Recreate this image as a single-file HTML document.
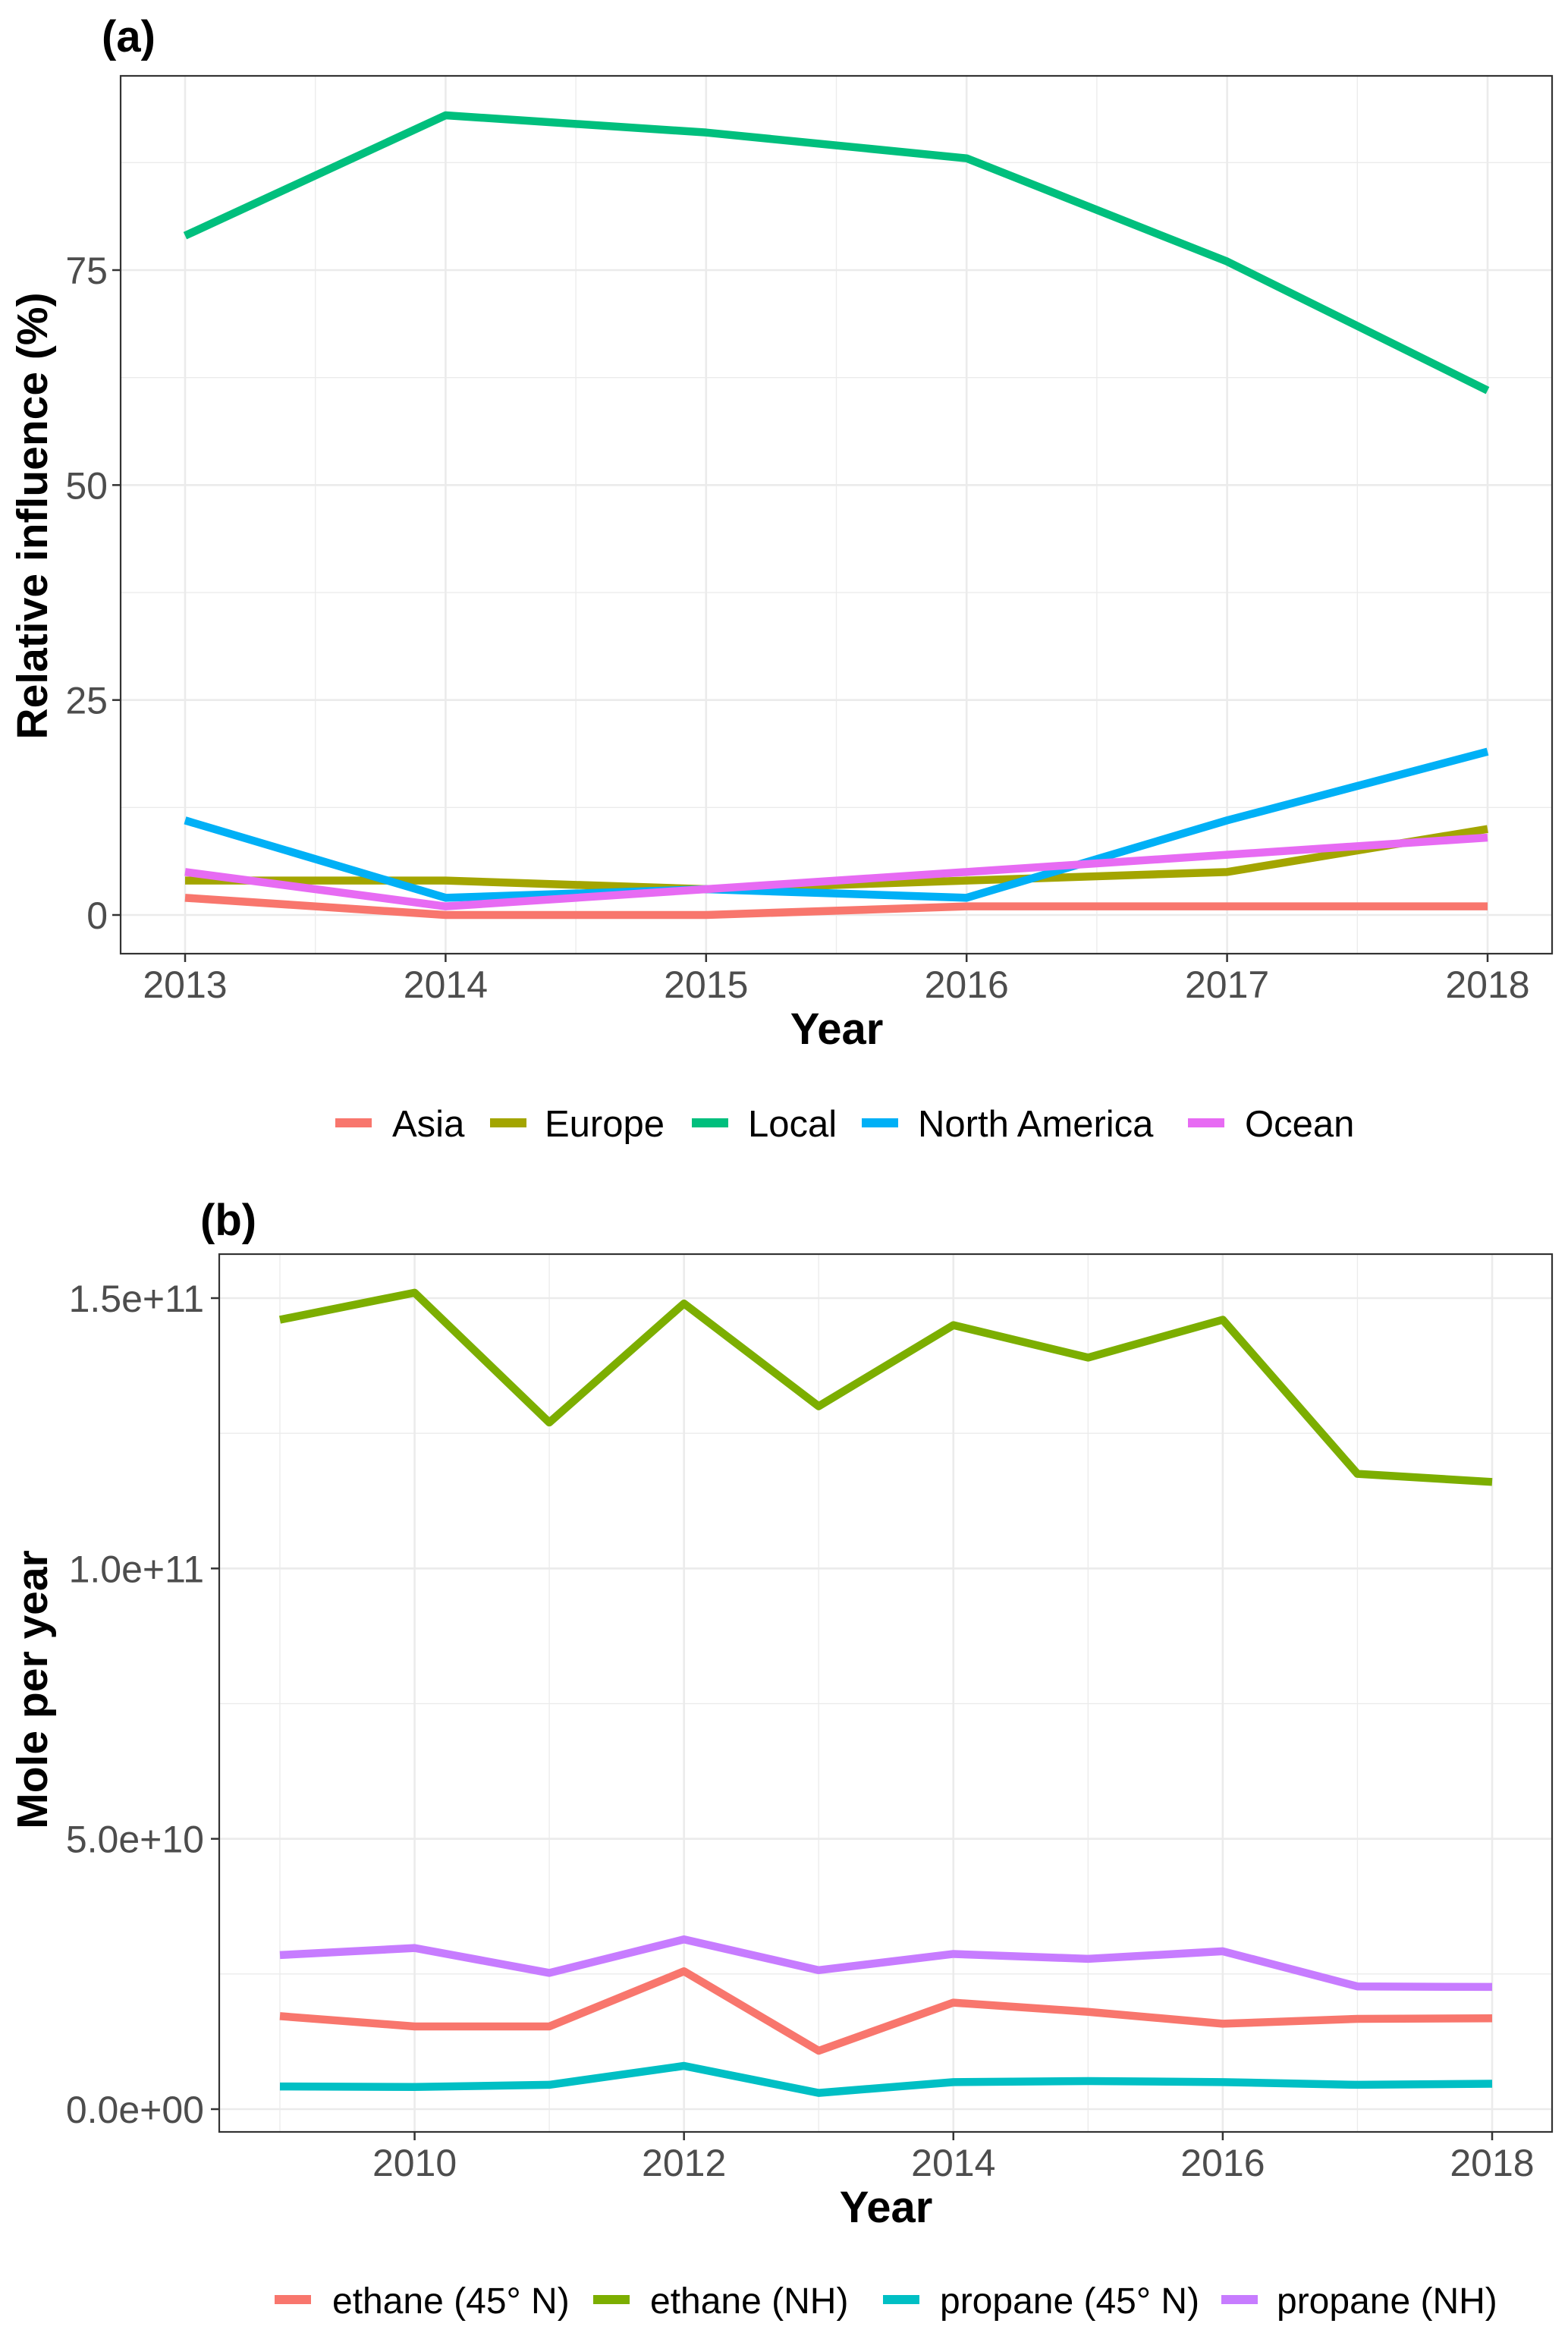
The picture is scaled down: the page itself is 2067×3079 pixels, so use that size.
<!DOCTYPE html>
<html><head><meta charset="utf-8"><style>
html,body{margin:0;padding:0;background:#fff}
svg{display:block}
text{font-family:"Liberation Sans",sans-serif}
</style></head><body>
<svg id="fig" width="2067" height="3079" viewBox="0 0 2067 3079" xmlns="http://www.w3.org/2000/svg"></svg>
<script>
// Panel (a) data
const yearsA = [2013, 2014, 2015, 2016, 2017, 2018];
const asiaA = [2, 0, 0, 1, 1, 1];
const europeA = [4, 4, 3, 4, 5, 10];
const localA = [79, 93, 91, 88, 76, 61];
const northAmericaA = [11, 2, 3, 2, 11, 19];
const oceanA = [5, 1, 3, 5, 7, 9];
const yTicksA = [0, 25, 50, 75];
const yTickLabelsA = ["0", "25", "50", "75"];
const xTickLabelsA = ["2013", "2014", "2015", "2016", "2017", "2018"];
// Panel (b) data (mole per year)
const yearsB = [2009, 2010, 2011, 2012, 2013, 2014, 2015, 2016, 2017, 2018];
const ethane45 = [1.72e10, 1.53e10, 1.53e10, 2.55e10, 1.08e10, 1.97e10, 1.80e10, 1.58e10, 1.67e10, 1.68e10];
const ethaneNH = [1.46e11, 1.51e11, 1.27e11, 1.49e11, 1.30e11, 1.45e11, 1.39e11, 1.46e11, 1.175e11, 1.16e11];
const propane45 = [0.42e10, 0.41e10, 0.45e10, 0.80e10, 0.30e10, 0.50e10, 0.52e10, 0.50e10, 0.45e10, 0.47e10];
const propaneNH = [2.85e10, 2.98e10, 2.52e10, 3.14e10, 2.57e10, 2.87e10, 2.78e10, 2.92e10, 2.27e10, 2.26e10];
const yTicksB = [0, 5e10, 1e11, 1.5e11];
const yTickLabelsB = ["0.0e+00", "5.0e+10", "1.0e+11", "1.5e+11"];
const xTicksB = [2010, 2012, 2014, 2016, 2018];
const xTickLabelsB = ["2010", "2012", "2014", "2016", "2018"];

const NS = "http://www.w3.org/2000/svg";
const svg = document.getElementById('fig');
function mk(tag, attrs, parent, txt){
  const e = document.createElementNS(NS, tag);
  for (const k in attrs) e.setAttribute(k, attrs[k]);
  if (txt !== undefined) e.textContent = txt;
  (parent || svg).appendChild(e);
  return e;
}

// ---------- Panel A ----------
const A = {l:159, r:2046, t:100, b:1257};
const xA = v => 244 + (v - 2013) * (1961 - 244) / 5;
const yA = v => 1206 - v * (1206 - 356) / 75;
const gA = mk('g', {});


mk('rect', {x:A.l, y:A.t, width:A.r-A.l, height:A.b-A.t, fill:'#fff'}, gA);
for (let v = 2013.5; v < 2018; v += 1) mk('line', {x1:xA(v), x2:xA(v), y1:A.t, y2:A.b, stroke:'#ebebeb', 'stroke-width':1.3}, gA);
for (let v = 12.5; v < 100; v += 25) { const y = yA(v); if (y > A.t) mk('line', {x1:A.l, x2:A.r, y1:y, y2:y, stroke:'#ebebeb', 'stroke-width':1.3}, gA); }
yearsA.forEach(v => mk('line', {x1:xA(v), x2:xA(v), y1:A.t, y2:A.b, stroke:'#ebebeb', 'stroke-width':2.6}, gA));
yTicksA.forEach(v => mk('line', {x1:A.l, x2:A.r, y1:yA(v), y2:yA(v), stroke:'#ebebeb', 'stroke-width':2.6}, gA));
const seriesA = [[asiaA,'#F8766D','asia'],[europeA,'#A3A500','europe'],[localA,'#00BF7D','local'],[northAmericaA,'#00B0F6','north-america'],[oceanA,'#E76BF3','ocean']];
seriesA.forEach(s => {
  const p = mk('polyline', {points: s[0].map((v,i)=>xA(yearsA[i])+','+yA(v)).join(' '), fill:'none', stroke:s[1], 'stroke-width':10.5, 'stroke-linejoin':'round'}, gA);
  
  
});
mk('rect', {x:A.l, y:A.t, width:A.r-A.l, height:A.b-A.t, fill:'none', stroke:'#333', 'stroke-width':2.2}, gA);
yTicksA.forEach((v,i) => {
  mk('line', {x1:A.l-11, x2:A.l, y1:yA(v), y2:yA(v), stroke:'#333', 'stroke-width':2.5}, gA);
  const t = mk('text', {x:A.l-17, y:yA(v)+18, 'text-anchor':'end', 'font-size':50, fill:'#4d4d4d'}, gA, yTickLabelsA[i]);
  
  
});
yearsA.forEach((v,i) => {
  mk('line', {x1:xA(v), x2:xA(v), y1:A.b, y2:A.b+11, stroke:'#333', 'stroke-width':2.5}, gA);
  const t = mk('text', {x:xA(v), y:1315, 'text-anchor':'middle', 'font-size':50, fill:'#4d4d4d'}, gA, xTickLabelsA[i]);
  
  
});
</script>
<script>
(function(){
const t1 = mk('text', {x:134, y:68, 'font-size':58, 'font-weight':'bold'}, null, '(a)');


const t2 = mk('text', {x:1103, y:1376, 'text-anchor':'middle', 'font-size':58, 'font-weight':'bold'}, null, 'Year');


const t3 = mk('text', {x:0, y:0, 'text-anchor':'middle', 'font-size':57, 'font-weight':'bold', transform:'translate(62,680) rotate(-90)'}, null, 'Relative influence (%)');



const legA = [['Asia','#F8766D',442,517],['Europe','#A3A500',646,718],['Local','#00BF7D',912,986],['North America','#00B0F6',1136,1210],['Ocean','#E76BF3',1566,1641]];
legA.forEach(l => {
  const g = mk('g', {});
  
  
  mk('rect', {x:l[2], y:1474, width:48, height:12, fill:l[1]}, g);
  mk('text', {x:l[3], y:1498, 'font-size':49}, g, l[0]);
});

const B = {l:289, r:2046, t:1653, b:2810};
const xB = v => 369 + (v - 2009) * (1967 - 369) / 9;
const yB = v => 2780 - v * (2780 - 1711) / 1.5e11;
const gB = mk('g', {});


for (let v = 2009; v <= 2017; v += 2) mk('line', {x1:xB(v), x2:xB(v), y1:B.t, y2:B.b, stroke:'#ebebeb', 'stroke-width':1.3}, gB);
for (let v = 2.5e10; v < 1.6e11; v += 5e10) mk('line', {x1:B.l, x2:B.r, y1:yB(v), y2:yB(v), stroke:'#ebebeb', 'stroke-width':1.3}, gB);
xTicksB.forEach(v => mk('line', {x1:xB(v), x2:xB(v), y1:B.t, y2:B.b, stroke:'#ebebeb', 'stroke-width':2.6}, gB));
yTicksB.forEach(v => mk('line', {x1:B.l, x2:B.r, y1:yB(v), y2:yB(v), stroke:'#ebebeb', 'stroke-width':2.6}, gB));
const seriesB = [[ethane45,'#F8766D','ethane-45n'],[ethaneNH,'#7CAE00','ethane-nh'],[propane45,'#00BFC4','propane-45n'],[propaneNH,'#C77CFF','propane-nh']];
seriesB.forEach(s => {
  const p = mk('polyline', {points: s[0].map((v,i)=>xB(yearsB[i])+','+yB(v)).join(' '), fill:'none', stroke:s[1], 'stroke-width':10.5, 'stroke-linejoin':'round'}, gB);
  
  
});
mk('rect', {x:B.l, y:B.t, width:B.r-B.l, height:B.b-B.t, fill:'none', stroke:'#333', 'stroke-width':2.2}, gB);
yTicksB.forEach((v,i) => {
  mk('line', {x1:B.l-11, x2:B.l, y1:yB(v), y2:yB(v), stroke:'#333', 'stroke-width':2.5}, gB);
  const t = mk('text', {x:B.l-20, y:yB(v)+18, 'text-anchor':'end', 'font-size':50, fill:'#4d4d4d'}, gB, yTickLabelsB[i]);
  
  
});
xTicksB.forEach((v,i) => {
  mk('line', {x1:xB(v), x2:xB(v), y1:B.b, y2:B.b+11, stroke:'#333', 'stroke-width':2.5}, gB);
  const t = mk('text', {x:xB(v), y:2868, 'text-anchor':'middle', 'font-size':50, fill:'#4d4d4d'}, gB, xTickLabelsB[i]);
  
  
});
const t4 = mk('text', {x:264, y:1628, 'font-size':58, 'font-weight':'bold'}, null, '(b)');


const t5 = mk('text', {x:1168, y:2929, 'text-anchor':'middle', 'font-size':58, 'font-weight':'bold'}, null, 'Year');


const t6 = mk('text', {x:0, y:0, 'text-anchor':'middle', 'font-size':57, 'font-weight':'bold', transform:'translate(62,2227) rotate(-90)'}, null, 'Mole per year');


const legB = [['ethane (45° N)','#F8766D',362,438],['ethane (NH)','#7CAE00',782,857],['propane (45° N)','#00BFC4',1164,1239],['propane (NH)','#C77CFF',1610,1683]];
legB.forEach(l => {
  const g = mk('g', {});
  
  
  mk('rect', {x:l[2], y:3025, width:48, height:12, fill:l[1]}, g);
  mk('text', {x:l[3], y:3049, 'font-size':48}, g, l[0]);
});
})();
</script>
</body></html>
